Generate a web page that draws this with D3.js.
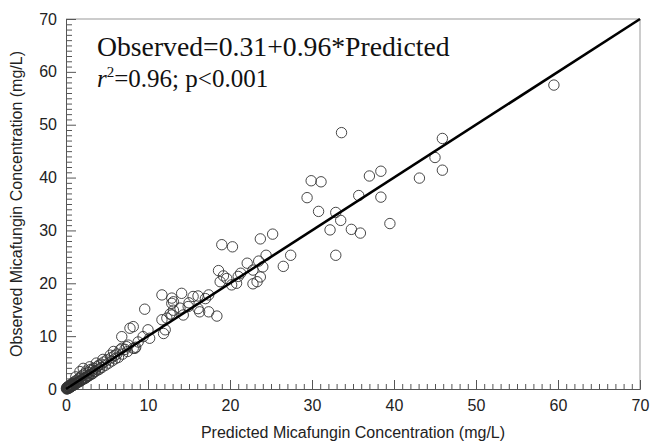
<!DOCTYPE html>
<html>
<head>
<meta charset="utf-8">
<script src="https://cdn.jsdelivr.net/npm/d3@7"></script>
<style>
  body { margin: 0; background: #fff; }
  svg { display: block; }
</style>
</head>
<body>
<div id="chart"></div>
<script>
// predicted (x) and observed (y) micafungin concentrations, mg/L
let predicted = [
  59.5, 33.6, 45.9, 45.0, 45.9, 43.1, 38.4, 37.0, 29.9, 31.1,
  29.4, 35.7, 38.4, 30.8, 32.9, 33.5, 39.5, 32.2, 34.8, 35.9,
  32.9, 27.4, 26.5, 25.2, 23.7, 19.0, 20.3, 24.4, 22.1, 23.5,
  24.0, 18.6, 19.2, 21.3, 22.8, 23.7, 20.2, 20.8, 22.8, 23.3,
  18.8, 19.6, 14.1, 15.5, 16.1, 17.4, 12.9, 13.1, 14.9, 16.1,
  16.3, 17.4, 18.4, 13.1, 14.3, 12.9, 11.7, 9.6, 12.9, 13.9,
  11.7, 12.7, 12.3, 12.1, 11.9, 8.2, 7.8, 10.0, 9.4, 10.2,
  8.8, 8.2, 7.4, 6.8, 5.8, 5.4, 6.8, 8.5, 8.4, 7.6,
  6.6, 4.5, 3.7, 2.9, 2.1, 1.7, 1.2, 15.0, 17.0, 21.0,
  0.05, 0.1, 0.15, 0.2, 0.25, 0.3, 0.35, 0.4, 0.45, 0.5,
  0.55, 0.6, 0.65, 0.7, 0.75, 0.8, 0.85, 0.9, 1.0, 1.1,
  1.15, 1.3, 1.4, 1.5, 1.6, 1.75, 1.8, 1.9, 2.0, 2.2,
  2.3, 2.4, 2.5, 2.6, 2.7, 2.8, 3.0, 3.1, 3.2, 3.3,
  3.4, 3.6, 3.8, 4.0, 4.1, 4.3, 4.4, 4.6, 4.8, 5.0,
  5.2, 5.5, 5.6, 5.9, 6.0, 6.2, 6.4, 6.9, 7.2, 7.5,
  0.1, 0.2, 0.3, 0.4, 0.5, 0.6, 0.7, 0.9, 1.0, 1.2,
  1.3, 1.5, 1.7, 2.0, 2.2, 2.5, 2.8, 3.2, 3.5, 3.9
];
let observed = [
  57.5, 48.5, 47.4, 43.8, 41.4, 39.9, 41.2, 40.3, 39.4, 39.2,
  36.2, 36.6, 36.3, 33.6, 33.4, 31.9, 31.3, 30.1, 30.2, 29.5,
  25.3, 25.3, 23.2, 29.3, 28.4, 27.3, 26.9, 25.3, 23.8, 24.2,
  23.1, 22.4, 21.4, 21.9, 22.5, 21.2, 19.7, 20.0, 19.9, 20.3,
  20.3, 20.9, 18.1, 17.5, 17.6, 17.8, 17.2, 16.5, 15.6, 15.2,
  14.6, 14.6, 13.8, 14.9, 14.0, 14.0, 17.8, 15.1, 16.2, 15.3,
  13.1, 14.2, 13.4, 11.2, 10.5, 11.8, 11.5, 11.2, 9.9, 9.6,
  8.9, 7.7, 8.0, 7.7, 7.1, 6.4, 9.9, 7.9, 7.7, 8.3,
  7.4, 5.6, 4.9, 4.2, 3.9, 3.3, 2.3, 16.3, 17.1, 21.3,
  0.1, 0.3, 0.05, 0.4, 0.2, 0.5, 0.15, 0.6, 0.35, 0.7,
  0.45, 0.8, 0.5, 0.9, 0.6, 1.1, 0.7, 1.0, 1.3, 0.9,
  1.5, 1.2, 1.7, 1.3, 2.0, 1.5, 2.3, 1.7, 2.6, 1.9,
  2.9, 2.1, 3.4, 2.4, 3.1, 2.5, 3.7, 2.8, 3.5, 3.0,
  3.9, 3.4, 4.2, 4.5, 3.8, 4.7, 4.1, 5.1, 4.5, 5.5,
  4.9, 5.9, 5.3, 6.3, 5.7, 6.6, 6.0, 6.6, 7.5, 7.1,
  0.0, 0.1, 0.2, 0.3, 0.3, 0.5, 0.6, 0.7, 0.8, 1.0,
  1.1, 1.4, 1.5, 1.8, 2.0, 2.2, 2.6, 2.9, 3.3, 3.6
];
let fitX = [0, 70];
let fitY = [0, 70];
let majorTicks = [0, 10, 20, 30, 40, 50, 60, 70];

const width = 655, height = 443;
const margin = {top: 19, right: 15, bottom: 54, left: 66};
const sans = 'Liberation Sans, Arial, sans-serif';
const serif = 'Liberation Serif, Times New Roman, serif';

let svg = d3.select('#chart').append('svg')
  .attr('width', width).attr('height', height);

let x = d3.scaleLinear([0, 70], [margin.left, width - margin.right]);
let y = d3.scaleLinear([0, 70], [height - margin.bottom, margin.top]);

// frame: top and right are light
svg.append('line').attr('x1', x(0)).attr('x2', x(70)).attr('y1', y(70)).attr('y2', y(70))
  .attr('stroke', '#999').attr('stroke-width', 1);
svg.append('line').attr('x1', x(70)).attr('x2', x(70)).attr('y1', y(70)).attr('y2', y(0))
  .attr('stroke', '#999').attr('stroke-width', 1);

// bottom axis, ticks pointing inward
let xAxis = svg.append('g').attr('transform', `translate(0,${y(0)})`);
xAxis.call(d3.axisTop(x).ticks(70).tickSize(5).tickFormat(''))
xAxis.selectAll('.tick').filter(d => d % 10 === 0).select('line').attr('y2', -9);
xAxis.selectAll('line, path').attr('stroke', '#555');
svg.append('g').attr('transform', `translate(0,${y(0) + 6})`)
  .call(d3.axisBottom(x).tickValues(majorTicks).tickSize(0).tickPadding(5))
  .call(g => g.select('.domain').remove())
  .selectAll('text').attr('font-family', sans)
  .attr('font-size', 16).attr('fill', '#222');

// left axis
let yAxis = svg.append('g').attr('transform', `translate(${x(0)},0)`);
yAxis.call(d3.axisRight(y).ticks(70).tickSize(6).tickFormat(''))
yAxis.selectAll('.tick').filter(d => d % 10 === 0).select('line').attr('x2', 10);
yAxis.selectAll('line, path').attr('stroke', '#555');
svg.append('g').attr('transform', `translate(${x(0) - 4},0)`)
  .call(d3.axisLeft(y).tickValues(majorTicks).tickSize(0).tickPadding(5))
  .call(g => g.select('.domain').remove())
  .selectAll('text').attr('font-family', sans)
  .attr('font-size', 16).attr('fill', '#222');

// points
svg.append('g').selectAll('circle')
  .data(predicted.map((p, i) => [p, observed[i]]))
  .join('circle')
  .attr('cx', d => x(d[0]))
  .attr('cy', d => y(d[1]))
  .attr('r', 5.2)
  .attr('fill', 'none')
  .attr('stroke', '#333')
  .attr('stroke-width', 0.9);

// fit line
svg.append('line')
  .attr('x1', x(fitX[0])).attr('y1', y(fitY[0]))
  .attr('x2', x(fitX[1])).attr('y2', y(fitY[1]))
  .attr('stroke', '#000').attr('stroke-width', 2.6);

// equation
svg.append('text').attr('x', 97).attr('y', 56)
  .attr('font-family', serif)
  .attr('font-size', 27.7).attr('fill', '#111')
  .text('Observed=0.31+0.96*Predicted');
let t2 = svg.append('text').attr('x', 97).attr('y', 87)
  .attr('font-family', serif)
  .attr('font-size', 25).attr('fill', '#111');
t2.append('tspan').attr('font-style', 'italic').text('r');
t2.append('tspan').attr('font-size', 15).attr('dy', -10).text('2');
t2.append('tspan').attr('dy', 10).text('=0.96; p<0.001');

// axis titles
svg.append('text').attr('x', (x(0) + x(70)) / 2).attr('y', 438)
  .attr('text-anchor', 'middle')
  .attr('font-family', sans)
  .attr('font-size', 16).attr('fill', '#222')
  .text('Predicted Micafungin Concentration (mg/L)');
svg.append('text')
  .attr('transform', `translate(22,${(y(0) + y(70)) / 2}) rotate(-90)`)
  .attr('text-anchor', 'middle')
  .attr('font-family', sans)
  .attr('font-size', 16).attr('fill', '#222')
  .text('Observed Micafungin Concentration (mg/L)');
</script>
</body>
</html>
